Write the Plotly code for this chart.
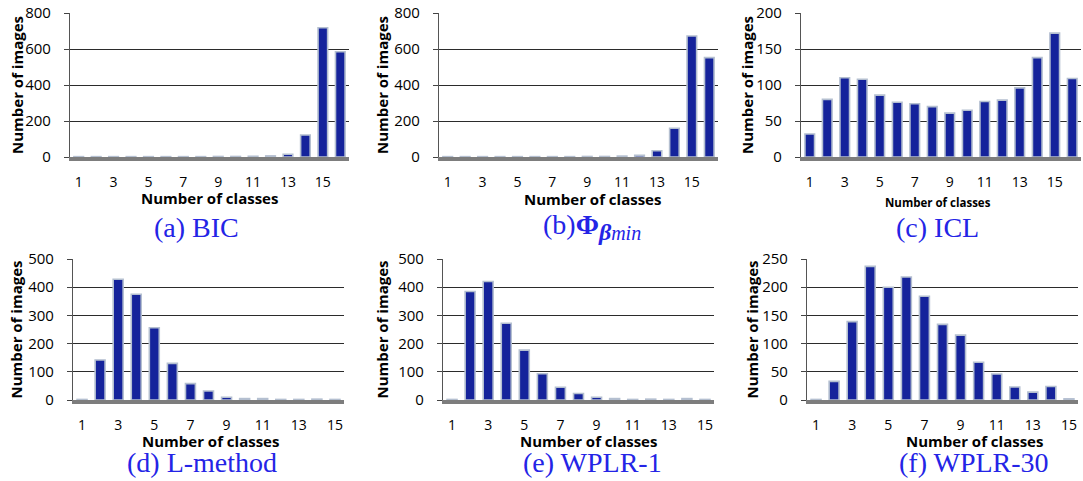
import plotly.graph_objects as go

W, H = 1083, 481

# ---------------- data ----------------
classes_16 = list(range(1, 17))
classes_15 = list(range(1, 16))

bic = [2, 2, 2, 2, 2, 2, 2, 2, 3, 3, 4, 6, 15, 122, 718, 585]
phi_beta_min = [2, 2, 2, 2, 2, 2, 2, 2, 3, 3, 5, 10, 35, 160, 672, 552]
icl = [32, 80, 110, 108, 86, 76, 74, 70, 61, 65, 77, 79, 96, 138, 172, 109]
l_method = [2, 142, 428, 375, 256, 130, 58, 32, 10, 5, 5, 2, 2, 3, 2]
wplr_1 = [2, 385, 420, 272, 177, 93, 45, 23, 10, 5, 2, 3, 2, 5, 2]
wplr_30 = [1, 33, 139, 237, 200, 218, 184, 134, 115, 67, 46, 23, 14, 24, 2]

tick_classes = [1, 3, 5, 7, 9, 11, 13, 15]

captions = ["(a) BIC",
            "(b)<b>Φ</b><sub><span style='font-size:24px'><b><i>β</i></b></span>"
            "<span style='font-size:20px'><i>min</i></span></sub>",
            "(c) ICL",
            "(d) L-method",
            "(e) WPLR-1",
            "(f) WPLR-30"]

panels = [
    dict(x=classes_16, y=bic, ymax=800, dt=200, xpx=(70, 349), ypx=(13, 157)),
    dict(x=classes_16, y=phi_beta_min, ymax=800, dt=200, xpx=(439, 718), ypx=(13, 157)),
    dict(x=classes_16, y=icl, ymax=200, dt=50, xpx=(801, 1081), ypx=(13, 157)),
    dict(x=classes_15, y=l_method, ymax=500, dt=100, xpx=(73, 344), ypx=(259, 400)),
    dict(x=classes_15, y=wplr_1, ymax=500, dt=100, xpx=(443, 714), ypx=(259, 400)),
    dict(x=classes_15, y=wplr_30, ymax=250, dt=50, xpx=(807, 1078), ypx=(259, 400)),
]

cap_pos = [(196, 227), (592, 227), (938, 227), (202, 462), (592, 462), (974, 462)]
xtitle_pos = [(209, 198), (592, 199), (938, 202), (210, 441), (588, 441), (974, 441)]
xtitle_size = [15, 15, 11.5, 15, 15, 15]
ytitle_x = [17, 382, 747, 15, 381, 751]

FONT = "Open Sans"
BAR = "#15239b"
EDGE = "#b4bfd0"
CAPC = "#2424e6"

fig = go.Figure()
layout = dict(width=W, height=H, margin=dict(l=0, r=0, t=0, b=0, pad=0),
              paper_bgcolor="white", plot_bgcolor="white", showlegend=False)

annotations = []
for i, p in enumerate(panels):
    n = i + 1
    xa = "x" if n == 1 else f"x{n}"
    ya = "y" if n == 1 else f"y{n}"
    fig.add_trace(go.Bar(x=p["x"], y=p["y"], xaxis=xa, yaxis=ya,
                         marker=dict(color=BAR, line=dict(color=EDGE, width=1.6)),
                         width=0.55))
    ncat = len(p["x"])
    x0, x1 = p["xpx"]
    y0, y1 = p["ypx"]
    layout["xaxis" if n == 1 else f"xaxis{n}"] = dict(
        domain=[x0 / W, x1 / W], range=[0.5, ncat + 0.5], automargin=False,
        anchor=ya, tickmode="array", tickvals=tick_classes,
        ticktext=[str(v) for v in tick_classes],
        ticks="", showgrid=False, zeroline=False,
        showline=True, linecolor="#7d7d7d", linewidth=4,
        tickfont=dict(family=FONT, size=14, color="black"),
        ticklabelstandoff=9, fixedrange=True)
    layout["yaxis" if n == 1 else f"yaxis{n}"] = dict(
        domain=[1 - y1 / H, 1 - y0 / H], range=[0, p["ymax"]], automargin=False,
        anchor=xa, dtick=p["dt"], tick0=0,
        showgrid=True, gridcolor="#2b2b2b", gridwidth=1.3,
        zeroline=False, showline=True, linecolor="#555555", linewidth=1.2,
        ticks="outside", ticklen=5, tickcolor="#444444",
        tickfont=dict(family=FONT, size=15, color="black"),
        ticklabelstandoff=10, fixedrange=True)

    annotations.append(dict(text=captions[i], x=cap_pos[i][0] / W, y=1 - cap_pos[i][1] / H,
                            xref="paper", yref="paper", showarrow=False,
                            xanchor="center", yanchor="middle",
                            font=dict(family="Liberation Serif", size=28, color=CAPC)))
    annotations.append(dict(text="<b>Number of classes</b>", x=xtitle_pos[i][0] / W,
                            y=1 - xtitle_pos[i][1] / H, xref="paper", yref="paper",
                            showarrow=False, xanchor="center", yanchor="middle",
                            font=dict(family=FONT, size=xtitle_size[i], color="black")))
    annotations.append(dict(text="<b>Number of images</b>", x=ytitle_x[i] / W,
                            y=1 - ((y0 + y1) / 2) / H, xref="paper", yref="paper",
                            showarrow=False, xanchor="center", yanchor="middle",
                            textangle=-90,
                            font=dict(family=FONT, size=15, color="black")))

layout["annotations"] = annotations
fig.update_layout(**layout)
fig.write_html("out.html", config={"displayModeBar": False},
               post_script="document.body.style.margin='0';")
